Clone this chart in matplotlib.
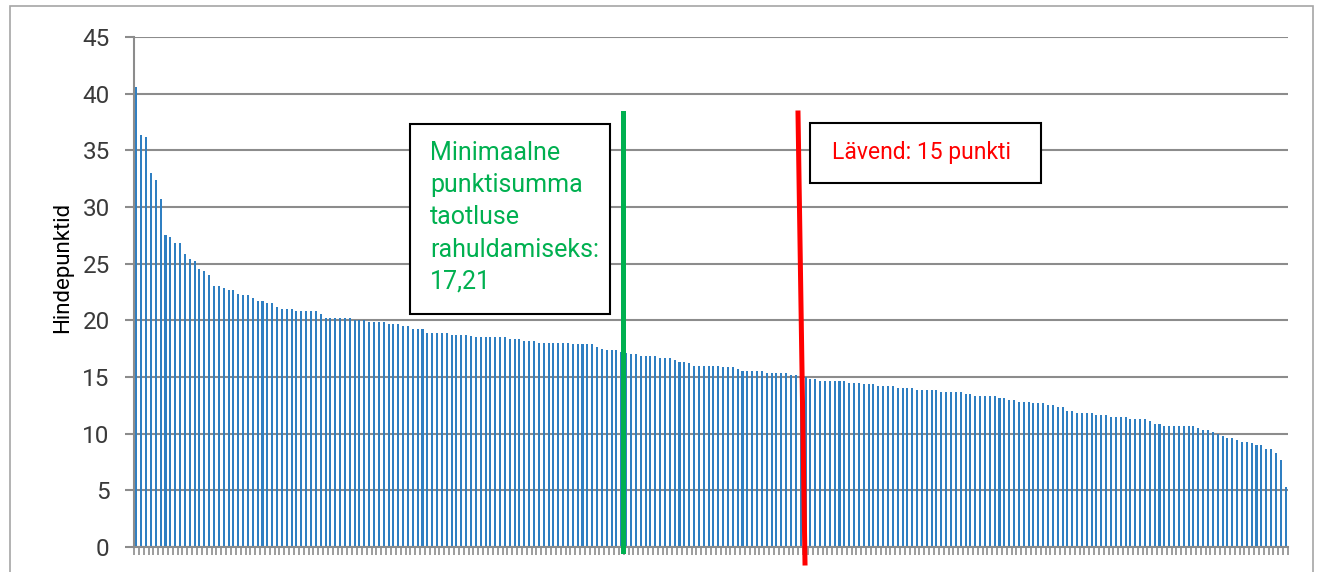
import matplotlib
matplotlib.use('Agg')
import matplotlib.pyplot as plt
from matplotlib.lines import Line2D
from matplotlib.patches import Rectangle
import numpy as np

plt.rcParams['font.family'] = ['Roboto', 'DejaVu Sans']

# ---- Data (sorted scores) ----
scores = [
    40.6, 36.35, 36.2, 33.0, 32.4, 30.7, 27.5, 27.35, 26.85, 26.85,
    25.85, 25.4, 25.2, 24.5, 24.35, 24.0, 23.0, 23.0, 22.85, 22.7,
    22.7, 22.3, 22.2, 22.2, 22.0, 21.7, 21.7, 21.55, 21.55, 21.2,
    21.0, 21.0, 21.0, 20.85, 20.85, 20.85, 20.85, 20.85, 20.55, 20.2,
    20.2, 20.2, 20.2, 20.2, 20.2, 20.0, 20.0, 20.0, 19.85, 19.85,
    19.85, 19.85, 19.68, 19.68, 19.68, 19.53, 19.53, 19.2, 19.2, 19.2,
    18.85, 18.85, 18.85, 18.85, 18.85, 18.7, 18.7, 18.7, 18.7, 18.6,
    18.53, 18.53, 18.53, 18.53, 18.53, 18.53, 18.53, 18.33, 18.33, 18.33,
    18.18, 18.18, 18.18, 18.03, 18.03, 18.03, 18.03, 18.03, 18.03, 18.03,
    17.87, 17.87, 17.87, 17.87, 17.87, 17.68, 17.5, 17.35, 17.35, 17.35,
    17.2, 17.1, 17.03, 17.03, 16.85, 16.85, 16.85, 16.85, 16.68, 16.68,
    16.68, 16.5, 16.35, 16.35, 16.2, 16.0, 16.0, 16.0, 16.0, 16.0,
    16.0, 15.85, 15.85, 15.85, 15.68, 15.53, 15.53, 15.53, 15.53, 15.53,
    15.35, 15.35, 15.35, 15.35, 15.35, 15.2, 15.2, 15.1, 15.0, 14.85,
    14.85, 14.68, 14.68, 14.68, 14.68, 14.68, 14.68, 14.5, 14.5, 14.5,
    14.35, 14.35, 14.35, 14.18, 14.18, 14.18, 14.18, 14.0, 14.0, 14.0,
    14.0, 13.85, 13.85, 13.85, 13.85, 13.85, 13.68, 13.68, 13.68, 13.68,
    13.68, 13.53, 13.53, 13.35, 13.35, 13.35, 13.35, 13.35, 13.18, 13.18,
    13.0, 13.0, 12.83, 12.83, 12.83, 12.68, 12.68, 12.68, 12.5, 12.5,
    12.33, 12.33, 12.0, 12.0, 11.85, 11.85, 11.85, 11.85, 11.68, 11.68,
    11.68, 11.5, 11.5, 11.5, 11.5, 11.33, 11.33, 11.33, 11.33, 11.15,
    10.85, 10.85, 10.68, 10.68, 10.68, 10.68, 10.68, 10.68, 10.68, 10.47,
    10.35, 10.3, 10.15, 10.0, 9.8, 9.65, 9.65, 9.47, 9.3, 9.3,
    9.15, 9.0, 9.0, 8.68, 8.68, 8.32, 7.68, 5.32,
]
y_ticks = [0, 5, 10, 15, 20, 25, 30, 35, 40, 45]
y_label = 'Hindepunktid'
green_note = 'Minimaalne\npunktisumma\ntaotluse\nrahuldamiseks:\n17,21'
red_note = 'Lävend: 15 punkti'

# ---- Style ----
W, H = 1321, 572
DPI = 100
C_BAR = '#2F7FC2'
C_GRID = '#8C8C8C'
C_GREEN = '#00B050'
C_RED = '#FF0000'
C_TEXT = '#3A3A3A'


def fx(x):
    return x / W


def fy(y):
    return 1 - y / H


fig = plt.figure(figsize=(W / DPI, H / DPI), dpi=DPI)
fig.patch.set_facecolor('white')

# outer chart frame
fig.add_artist(Rectangle((fx(10), fy(590)), fx(1313) - fx(10), fy(6) - fy(590),
                         transform=fig.transFigure, fill=False,
                         edgecolor='#A6A6A6', lw=1.2))

ax = fig.add_axes([fx(134), fy(547), fx(1288) - fx(134), fy(37) - fy(547)])
n = len(scores)
x = np.arange(1, n + 1)
ax.bar(x, scores, width=0.42, color=C_BAR, zorder=2)

ax.set_xlim(0.5, n + 0.5)
ax.set_ylim(0, 45)
ax.set_yticks(y_ticks)
ax.set_xticks(np.arange(0.5, n + 1, 1))
ax.set_xticklabels([])
ax.yaxis.grid(True, color=C_GRID, lw=1.5)
ax.set_axisbelow(True)

ax.spines[['top', 'right']].set_visible(False)
for s in ['left', 'bottom']:
    ax.spines[s].set_color(C_GRID)
    ax.spines[s].set_linewidth(1.5)

ax.tick_params(axis='x', length=6, width=1.2, color=C_GRID)
ax.tick_params(axis='y', length=6.5, width=1.5, color=C_GRID,
               labelsize=17.5, pad=11, labelcolor=C_TEXT)
ax.set_ylabel(y_label, fontsize=16, color='black')
ax.yaxis.set_label_coords(-0.053, 0.548)

# threshold lines
fig.add_artist(Line2D([fx(623), fx(623)], [fy(113), fy(551)],
                      color=C_GREEN, lw=3.6, transform=fig.transFigure))
fig.add_artist(Line2D([fx(798), fx(805)], [fy(113), fy(563)],
                      color=C_RED, lw=3.6, transform=fig.transFigure))

# annotation boxes
fig.add_artist(Rectangle((fx(410), fy(314)), fx(610) - fx(410), fy(124) - fy(314),
                         transform=fig.transFigure, facecolor='white',
                         edgecolor='black', lw=1.5))
fig.text(fx(430), fy(141), green_note, color=C_GREEN, fontsize=18,
         ha='left', va='top', linespacing=1.43)

fig.add_artist(Rectangle((fx(810), fy(183)), fx(1041) - fx(810), fy(123) - fy(183),
                         transform=fig.transFigure, facecolor='white',
                         edgecolor='black', lw=1.5))
fig.text(fx(832), fy(152), red_note, color=C_RED, fontsize=16.5,
         ha='left', va='center')

fig.savefig('out.png', dpi=DPI, facecolor='white')
